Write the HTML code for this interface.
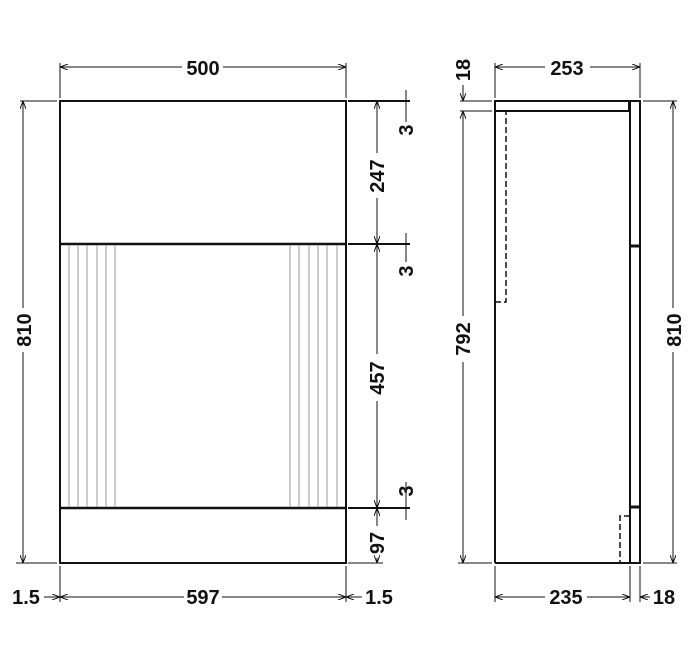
<!DOCTYPE html>
<html><head><style>body{margin:0;background:#fff}svg{display:block}text{font-family:"Liberation Sans",sans-serif;font-weight:bold;font-size:20px;fill:#111}</style></head><body>
<svg width="700" height="661" viewBox="0 0 700 661" xmlns="http://www.w3.org/2000/svg">
<defs><marker id="a" markerWidth="8" markerHeight="6" refX="8" refY="3" orient="auto-start-reverse" markerUnits="userSpaceOnUse"><path d="M0,0 L8,3 L0,6" fill="none" stroke="#111" stroke-width="1"/></marker></defs>
<g stroke="#111" fill="none">
<rect x="60" y="101" width="286" height="462" stroke-width="2"/>
<line x1="60" y1="244" x2="346" y2="244" stroke-width="2.5"/>
<line x1="60" y1="508" x2="346" y2="508" stroke-width="2.5"/>
<g stroke="#999" stroke-width="1">
<line x1="69" y1="245" x2="69" y2="507"/><line x1="78" y1="245" x2="78" y2="507"/><line x1="87" y1="245" x2="87" y2="507"/><line x1="97" y1="245" x2="97" y2="507"/><line x1="106" y1="245" x2="106" y2="507"/><line x1="115" y1="245" x2="115" y2="507"/>
<line x1="290" y1="245" x2="290" y2="507"/><line x1="299" y1="245" x2="299" y2="507"/><line x1="309" y1="245" x2="309" y2="507"/><line x1="318" y1="245" x2="318" y2="507"/><line x1="327" y1="245" x2="327" y2="507"/><line x1="337" y1="245" x2="337" y2="507"/>
</g>
<g stroke-width="1">
<line x1="60" y1="63" x2="60" y2="98"/><line x1="346" y1="63" x2="346" y2="98"/>
<line x1="60" y1="67" x2="182" y2="67" marker-start="url(#a)"/><line x1="223" y1="67" x2="346" y2="67" marker-end="url(#a)"/>
<line x1="20" y1="101" x2="57" y2="101"/><line x1="16" y1="563" x2="57" y2="563"/>
<line x1="23" y1="101" x2="23" y2="308" marker-start="url(#a)"/><line x1="23" y1="352" x2="23" y2="563" marker-end="url(#a)"/>
<line x1="348" y1="101" x2="410" y2="101" stroke-width="2"/><line x1="348" y1="244" x2="410" y2="244" stroke-width="2"/><line x1="348" y1="508" x2="410" y2="508" stroke-width="2"/><line x1="348" y1="563" x2="383" y2="563"/>
<line x1="377" y1="101" x2="377" y2="153" marker-start="url(#a)"/><line x1="377" y1="198" x2="377" y2="244" marker-end="url(#a)"/>
<line x1="377" y1="244" x2="377" y2="354" marker-start="url(#a)"/><line x1="377" y1="401" x2="377" y2="508" marker-end="url(#a)"/>
<line x1="377" y1="508" x2="377" y2="526" marker-start="url(#a)"/><line x1="377" y1="558" x2="377" y2="563" marker-end="url(#a)"/>
<line x1="406" y1="90" x2="406" y2="122"/><line x1="406" y1="233" x2="406" y2="262"/><line x1="406" y1="482" x2="406" y2="520"/>
<line x1="60" y1="566" x2="60" y2="602"/><line x1="346" y1="566" x2="346" y2="602"/>
<line x1="44" y1="597" x2="60" y2="597" marker-end="url(#a)"/>
<line x1="60" y1="597" x2="184" y2="597" marker-start="url(#a)"/><line x1="222" y1="597" x2="346" y2="597" marker-end="url(#a)"/>
<line x1="346" y1="597" x2="362" y2="597" marker-start="url(#a)"/>
</g>
<rect x="495" y="101" width="134" height="10" stroke-width="2"/>
<line x1="495" y1="101" x2="495" y2="563" stroke-width="2"/>
<line x1="495" y1="563" x2="640" y2="563" stroke-width="2"/>
<rect x="630" y="101" width="10" height="462" stroke-width="2"/>
<line x1="630" y1="246" x2="640" y2="246" stroke-width="3"/>
<line x1="630" y1="507" x2="640" y2="507" stroke-width="3"/>
<path d="M495,111 H506 V302 H495" stroke-width="1.5" stroke-dasharray="6,3"/>
<path d="M630,516 H620 V563" stroke-width="1.5" stroke-dasharray="6,3"/>
<g stroke-width="1">
<line x1="495" y1="63" x2="495" y2="98"/><line x1="640" y1="63" x2="640" y2="98"/>
<line x1="495" y1="67" x2="545" y2="67" marker-start="url(#a)"/><line x1="590" y1="67" x2="640" y2="67" marker-end="url(#a)"/>
<line x1="460" y1="101" x2="492" y2="101"/><line x1="460" y1="111" x2="492" y2="111"/>
<line x1="463" y1="85" x2="463" y2="101" marker-end="url(#a)"/>
<line x1="463" y1="111" x2="463" y2="316" marker-start="url(#a)"/><line x1="463" y1="362" x2="463" y2="563" marker-end="url(#a)"/>
<line x1="458" y1="563" x2="492" y2="563"/>
<line x1="643" y1="101" x2="677" y2="101"/><line x1="643" y1="563" x2="677" y2="563"/>
<line x1="673" y1="101" x2="673" y2="308" marker-start="url(#a)"/><line x1="673" y1="352" x2="673" y2="563" marker-end="url(#a)"/>
<line x1="495" y1="566" x2="495" y2="602"/><line x1="630" y1="566" x2="630" y2="602"/><line x1="640" y1="566" x2="640" y2="602"/>
<line x1="495" y1="597" x2="545" y2="597" marker-start="url(#a)"/><line x1="587" y1="597" x2="630" y2="597" marker-end="url(#a)"/>
<line x1="640" y1="597" x2="650" y2="597" marker-start="url(#a)"/>
</g>
</g>
<text x="203" y="75" text-anchor="middle">500</text>
<text x="567" y="75" text-anchor="middle">253</text>
<text transform="translate(31,330) rotate(-90)" text-anchor="middle">810</text>
<text transform="translate(681,330) rotate(-90)" text-anchor="middle">810</text>
<text transform="translate(470,339) rotate(-90)" text-anchor="middle">792</text>
<text transform="translate(470,70) rotate(-90)" text-anchor="middle">18</text>
<text transform="translate(384,176) rotate(-90)" text-anchor="middle">247</text>
<text transform="translate(384,378) rotate(-90)" text-anchor="middle">457</text>
<text transform="translate(384,543) rotate(-90)" text-anchor="middle">97</text>
<text transform="translate(413,130) rotate(-90)" text-anchor="middle">3</text>
<text transform="translate(413,271) rotate(-90)" text-anchor="middle">3</text>
<text transform="translate(413,491) rotate(-90)" text-anchor="middle">3</text>
<text x="26" y="604" text-anchor="middle">1.5</text>
<text x="203" y="604" text-anchor="middle">597</text>
<text x="379" y="604" text-anchor="middle">1.5</text>
<text x="566" y="604" text-anchor="middle">235</text>
<text x="664" y="604" text-anchor="middle">18</text>
</svg>
</body></html>
